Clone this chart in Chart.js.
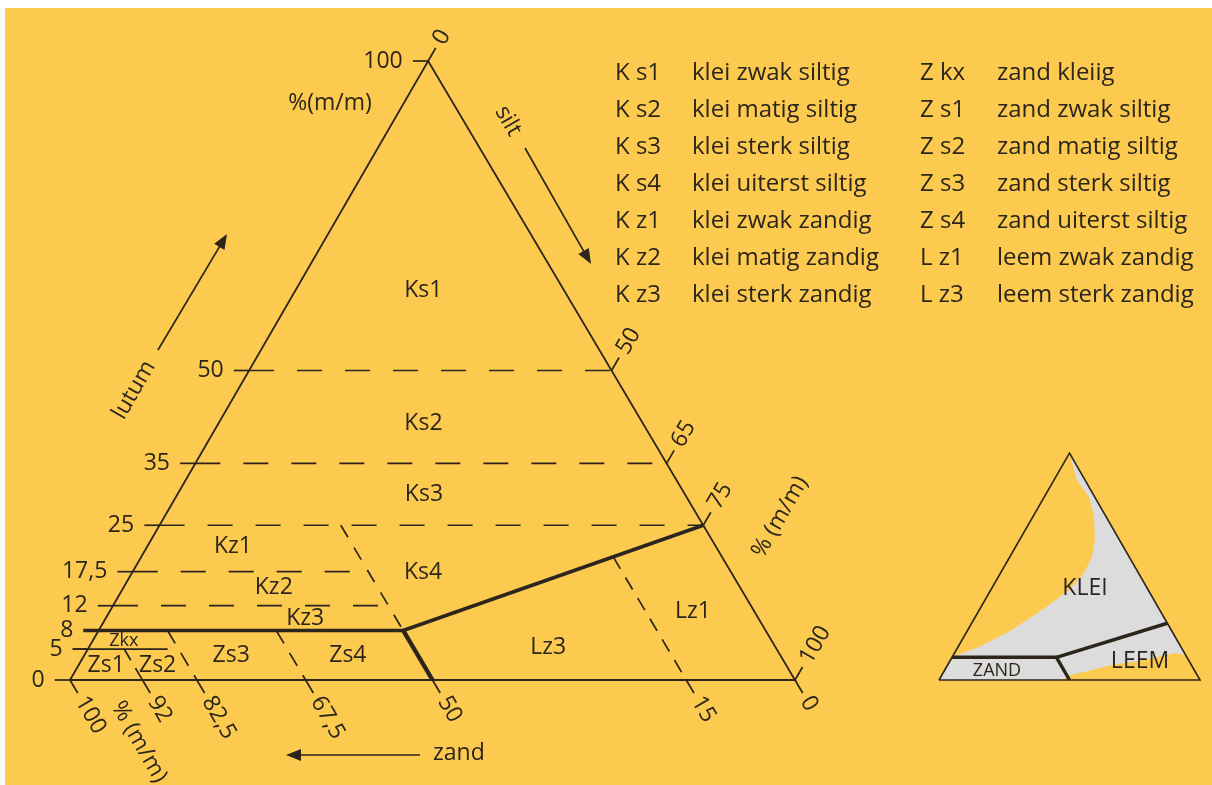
<!DOCTYPE html>
<html><head><meta charset="utf-8">
<script src="https://cdn.jsdelivr.net/npm/chart.js@4.4.1/dist/chart.umd.min.js"></script>
<style>html,body{margin:0;padding:0;background:#fff;overflow:hidden}canvas{display:block}</style>
</head><body>
<canvas id="c" width="1212" height="785"></canvas>
<script>
// ===== DATA (ternary: lutum %, silt %; zand = 100 - lutum - silt) =====
const lutumTickValues = [0, 5, 8, 12, 17.5, 25, 35, 50, 100];
const lutumTickLabels = ['0', '5', '8', '12', '17,5', '25', '35', '50', '100'];
const siltTickValues = [0, 50, 65, 75, 100];
const siltTickLabels = ['0', '50', '65', '75', '100'];
const zandTickValues = [100, 90, 82.5, 67.5, 50, 15, 0];   // positions
const zandTickLabels = ['100', '92', '82,5', '67,5', '50', '15', '0'];

const fullDashLutum = [50, 35, 25];      // dashed lines across the whole triangle
const kzDashLutum = [17.5, 12];          // dashed lines ending at zand 50
const zandSplit = 50;                    // zand boundary (Kz | Ks, Zs | Lz)
const sandLutum = 8;                     // thick line: zand / klei
const loamTopLutum = 25;                 // thick line reaches right edge here
const zkxLutum = 5;                      // Zkx lower limit
const zkxZandEnd = 84;
const lowerZandDashes = [82.5, 67.5];    // dashed, lutum 8 -> 0
const zs1ZandDash = 90;                  // dashed, lutum 5 -> 0
const lzZandDash = 15;                   // dashed, thick line -> lutum 0

const classCodes = ['Ks1', 'Ks2', 'Ks3', 'Ks4', 'Kz1', 'Kz2', 'Kz3', 'Zkx', 'Zs1', 'Zs2', 'Zs3', 'Zs4', 'Lz3', 'Lz1'];

const legendCodesA = ['K s1', 'K s2', 'K s3', 'K s4', 'K z1', 'K z2', 'K z3'];
const legendNamesA = ['klei zwak siltig', 'klei matig siltig', 'klei sterk siltig', 'klei uiterst siltig', 'klei zwak zandig', 'klei matig zandig', 'klei sterk zandig'];
const legendCodesB = ['Z kx', 'Z s1', 'Z s2', 'Z s3', 'Z s4', 'L z1', 'L z3'];
const legendNamesB = ['zand kleiig', 'zand zwak siltig', 'zand matig siltig', 'zand sterk siltig', 'zand uiterst siltig', 'leem zwak zandig', 'leem sterk zandig'];

// inset triangle
const insetGreyLutum = [100, 88, 80.6, 71.8, 61.7, 54.2, 47.1, 39.6, 30.8, 22, 14.5, 10.6, 10, 0, 0, 2, 6.6, 8.8, 11.9, 11, 100];
const insetGreySilt  = [0, 8.8, 17.2, 23.5, 28.9, 31.5, 32, 30, 24.1, 17, 8, 0.8, 0, 0, 47, 49, 63, 74.5, 84.5, 89, 0];
const insetZandLutum = 10;
const insetZandZand = 50;
const insetLeemLutum = 25;
const insetNames = ['KLEI', 'LEEM', 'ZAND'];

// ===== LAYOUT / STYLE =====
const INK = '#2b251c';
const YELLOW = '#fdca50';
const GREY = '#dcdcdc';
const FONT = '"Open Sans", "Noto Sans", sans-serif';
const SKEW = 0.494;
const T = (l, s) => ({ x: s + SKEW * l, y: l });
const TI = (l, s) => ({ x: s + 0.5 * l, y: l });

const classLabelPos = { // [lutum, silt]
  Ks1: [63.0, 17.6], Ks2: [41.4, 28.3], Ks3: [30.0, 34.0], Ks4: [17.4, 40.1],
  Kz1: [21.6, 11.8], Kz2: [15.0, 20.7], Kz3: [10.0, 27.5], Zkx: [6.3, 4.3],
  Zs1: [2.4, 3.8], Zs2: [2.4, 10.9], Zs3: [3.9, 20.3], Zs4: [3.9, 36.4],
  Lz3: [5.2, 63.4], Lz1: [11.0, 80.5]
};

const datasets = [];
function addLine(pts, opts, inset) {
  datasets.push(Object.assign({
    data: pts.map(p => inset ? TI(p[0], p[1]) : T(p[0], p[1])),
    showLine: true, pointRadius: 0, pointHoverRadius: 0, borderColor: INK, borderWidth: 1.7,
    fill: false, tension: 0, borderCapStyle: 'butt', borderJoinStyle: 'miter',
    xAxisID: inset ? 'xi' : 'x', yAxisID: inset ? 'yi' : 'y'
  }, opts || {}));
}
const zs = z => 100 - z; // silt at lutum 0 for given zand
const siltAt = (l, z) => 100 - z - l;

// thick boundary lines
const kneeSilt = siltAt(sandLutum, zandSplit);
addLine([[sandLutum, -2.1], [sandLutum, kneeSilt]], { borderWidth: 3.6 });
addLine([[sandLutum, kneeSilt], [0, zs(zandSplit)]], { borderWidth: 4.4 });
addLine([[sandLutum, kneeSilt], [loamTopLutum, 100 - loamTopLutum]], { borderWidth: 3.6 });

// dashed constant-lutum lines
const DASH_H = [25, 23];
fullDashLutum.forEach(l => addLine([[l, 0], [l, 100 - l]], { borderDash: DASH_H }));
kzDashLutum.forEach(l => addLine([[l, 0], [l, siltAt(l, zandSplit)]], { borderDash: DASH_H }));
// Kz | Ks boundary (zand 50)
addLine([[loamTopLutum, siltAt(loamTopLutum, zandSplit)], [sandLutum, kneeSilt]], { borderDash: [14, 12] });
// lutum 5 line (Zkx)
addLine([[zkxLutum, -2.1], [zkxLutum, siltAt(zkxLutum, zkxZandEnd)]]);
// lower dashed constant-zand lines
lowerZandDashes.forEach(z => addLine([[sandLutum, siltAt(sandLutum, z)], [0, zs(z)]], { borderDash: [15, 11] }));
addLine([[zkxLutum, siltAt(zkxLutum, zs1ZandDash)], [0, zs(zs1ZandDash)]], { borderDash: [13, 9] });
// Lz1 | Lz3 (zand 15) from thick line
{
  const t = (zandSplit - lzZandDash) / zandSplit;
  const l = sandLutum + (loamTopLutum - sandLutum) * t;
  addLine([[l, siltAt(l, lzZandDash)], [0, zs(lzZandDash)]], { borderDash: [14, 10] });
}
// ticks
lutumTickValues.forEach(v => addLine([[v, -2.1], [v, 0]]));
zandTickValues.forEach(z => addLine([[0, zs(z)], [-2.1, zs(z) + 2.1]]));
siltTickValues.forEach(s => addLine([[100 - s, s], [102.1 - s, s]]));
// triangle
addLine([[0, 0], [0, 100], [100, 0], [0, 0]], { borderWidth: 1.8 });

// inset
addLine([[0, 0], [0, 100], [100, 0], [0, 0]], { borderWidth: 1.6 }, true);
{
  const ks = 100 - insetZandZand - insetZandLutum;
  addLine([[insetZandLutum, 0], [insetZandLutum, ks], [0, 100 - insetZandZand]], { borderWidth: 3.4 }, true);
  addLine([[insetZandLutum, ks], [insetLeemLutum, 100 - insetLeemLutum]], { borderWidth: 3.4 }, true);
}
addLine(insetGreyLutum.map((l, i) => [l, insetGreySilt[i]]), { borderWidth: 0, borderColor: 'rgba(0,0,0,0)', backgroundColor: GREY, fill: 'shape' }, true);

function arrow(ctx, x1, y1, x2, y2) {
  const a = Math.atan2(y2 - y1, x2 - x1), L = 15, W = 6;
  ctx.beginPath(); ctx.moveTo(x1, y1); ctx.lineTo(x2 - L * 0.8 * Math.cos(a), y2 - L * 0.8 * Math.sin(a)); ctx.stroke();
  ctx.beginPath();
  ctx.moveTo(x2, y2);
  ctx.lineTo(x2 - L * Math.cos(a) + W * Math.sin(a), y2 - L * Math.sin(a) - W * Math.cos(a));
  ctx.lineTo(x2 - L * Math.cos(a) - W * Math.sin(a), y2 - L * Math.sin(a) + W * Math.cos(a));
  ctx.closePath(); ctx.fill();
}
function rtext(ctx, txt, x, y, ang, align) {
  ctx.save(); ctx.translate(x, y); ctx.rotate(ang); ctx.textAlign = align || 'center'; ctx.fillText(txt, 0, 0); ctx.restore();
}

const textPlugin = {
  id: 'ternaryText',
  beforeDraw(chart) {
    const c = chart.ctx;
    c.save(); c.fillStyle = '#ffffff'; c.fillRect(0, 0, chart.width, chart.height);
    c.fillStyle = YELLOW; c.fillRect(5, 8, chart.width - 5, chart.height - 8); c.restore();
  },
  afterDatasetsDraw(chart) {
    const c = chart.ctx, sx = chart.scales.x, sy = chart.scales.y;
    const P = (l, s) => { const t = T(l, s); return [sx.getPixelForValue(t.x), sy.getPixelForValue(t.y)]; };
    c.save();
    c.fillStyle = INK; c.strokeStyle = INK; c.textBaseline = 'middle';
    c.font = '23px ' + FONT;
    // lutum tick labels
    lutumTickValues.forEach((v, i) => { const p = P(v, -3.5); c.textAlign = 'right'; c.fillText(lutumTickLabels[i], p[0], p[1]); });
    // zand tick labels (rotated +60)
    zandTickValues.forEach((z, i) => { const p = P(-2.9, zs(z) + 2.9); rtext(c, zandTickLabels[i], p[0], p[1], Math.PI / 3, 'left'); });
    // silt tick labels (rotated -60)
    siltTickValues.forEach((s, i) => { const p = P(102.9 - s, s); rtext(c, siltTickLabels[i], p[0], p[1], -Math.PI / 3, 'left'); });
    // class labels
    classCodes.forEach(code => {
      const p = P(classLabelPos[code][0], classLabelPos[code][1]);
      c.font = (code === 'Zkx' ? '18px ' : '23px ') + FONT; c.textAlign = 'center';
      c.fillText(code, p[0], p[1]);
    });
    c.font = '23px ' + FONT;
    // axis titles
    c.textAlign = 'center';
    c.fillText('%(m/m)', 330, 103);
    rtext(c, 'lutum', 134, 390, -Math.PI / 3);
    rtext(c, 'silt', 508, 121, Math.PI / 3);
    c.textAlign = 'left'; c.fillText('zand', 433, 753);
    rtext(c, '% (m/m)', 139, 742, Math.PI / 3);
    rtext(c, '% (m/m)', 780, 517, -Math.PI / 3);
    c.lineWidth = 1.7;
    arrow(c, 158, 350, 227, 234);
    arrow(c, 525, 148, 591, 264);
    arrow(c, 420, 755, 286, 755);
    // legend
    c.font = '24px ' + FONT;
    c.textAlign = 'left';
    for (let i = 0; i < legendCodesA.length; i++) {
      const y = 73 + i * 37.1;
      c.fillText(legendCodesA[i], 615, y);
      c.fillText(legendNamesA[i], 692, y);
      c.fillText(legendCodesB[i], 920, y);
      c.fillText(legendNamesB[i], 997, y);
    }
    // inset labels
    c.textAlign = 'center';
    c.font = '23px ' + FONT; c.fillText(insetNames[0], 1085, 588); c.fillText(insetNames[1], 1140, 661);
    c.font = '18px ' + FONT; c.fillText(insetNames[2], 997, 671);
    c.restore();
  }
};

const W = 1212, H = 785;
new Chart(document.getElementById('c'), {
  type: 'scatter',
  data: { datasets },
  options: {
    responsive: false, animation: false, devicePixelRatio: 1,
    layout: { padding: 0 },
    plugins: { legend: { display: false }, tooltip: { enabled: false }, filler: { propagate: false } },
    events: [],
    scales: {
      x: { type: 'linear', display: false, min: -70 / 7.25, max: -70 / 7.25 + W / 7.25 },
      y: { type: 'linear', display: false, min: 680 / 6.19 - H / 6.19, max: 680 / 6.19 },
      xi: { type: 'linear', display: false, min: -939 / 2.61, max: -939 / 2.61 + W / 2.61 },
      yi: { type: 'linear', display: false, min: 680 / 2.27 - H / 2.27, max: 680 / 2.27 }
    }
  },
  plugins: [textPlugin]
});
</script>
</body></html>
